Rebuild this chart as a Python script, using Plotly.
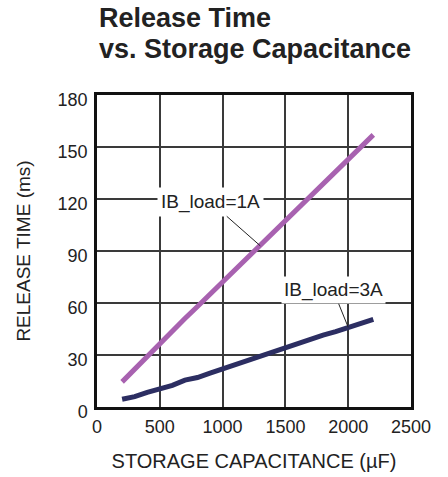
import plotly.graph_objects as go

cap_uF = [200, 300, 400, 500, 600, 700, 800, 900, 1000, 1100, 1200, 1300,
          1400, 1500, 1600, 1700, 1800, 1900, 2000, 2100, 2200]
release_1A = [14.5, 22, 29.5, 37, 44, 51, 58, 65, 72, 79, 86, 93,
              100, 107, 114, 121, 128, 135, 142, 149.5, 157]
release_3A = [4.5, 6, 8.5, 10.5, 12.5, 15.5, 17, 19.5, 22, 24, 27, 29.5,
              32, 34, 36.5, 39, 41.5, 43.5, 46, 48, 50.5]
x_ticks = [0, 500, 1000, 1500, 2000, 2500]
y_ticks = [0, 30, 60, 90, 120, 150, 180]
title_lines = ["Release Time", "vs. Storage Capacitance"]

FONT = "Liberation Sans, Arial, Helvetica, sans-serif"
purple = "#A862B0"
navy = "#2C2E62"
PLOT_H = 312

fig = go.Figure()
fig.add_trace(go.Scatter(x=cap_uF, y=release_1A, mode="lines",
                         line=dict(color=purple, width=5), showlegend=False))
fig.add_trace(go.Scatter(x=cap_uF, y=release_3A, mode="lines",
                         line=dict(color=navy, width=5), showlegend=False))

i1 = cap_uF.index(1300)
i3 = cap_uF.index(2000)
fig.add_annotation(x=cap_uF[i1], y=release_1A[i1], text="IB_load=1A",
                   showarrow=True, arrowhead=0, arrowwidth=1, arrowcolor="#222",
                   ax=-50, ay=-44, bgcolor="white", borderpad=3,
                   font=dict(family=FONT, size=19, color="#222"))
fig.add_annotation(x=cap_uF[i3], y=release_3A[i3], text="IB_load=3A",
                   showarrow=True, arrowhead=0, arrowwidth=1, arrowcolor="#222",
                   ax=-15, ay=-37, bgcolor="white", borderpad=2,
                   font=dict(family=FONT, size=19, color="#222"))

for line_text, px_above in zip(title_lines, [77, 46]):
    fig.add_annotation(x=0, y=1 + px_above / PLOT_H, xref="paper", yref="paper",
                       xanchor="left", yanchor="middle", showarrow=False,
                       text="<b>" + line_text + "</b>",
                       font=dict(family=FONT, size=27, color="#222"))

axis_common = dict(showgrid=True, gridcolor="#3a3a3a", gridwidth=1.5,
                   showline=True, linecolor="#111", linewidth=2.5, mirror=True,
                   ticks="", zeroline=False,
                   tickfont=dict(family=FONT, size=18, color="#222"))
fig.update_xaxes(range=[0, 2500], tickvals=x_ticks, ticklabelstandoff=2,
                 title=dict(text="STORAGE CAPACITANCE (µF)", standoff=18,
                            font=dict(family=FONT, size=20, color="#222")),
                 **axis_common)
fig.update_yaxes(range=[0, 180], tickvals=y_ticks, ticklabelstandoff=3,
                 ticklabelshift=5,
                 title=dict(text="RELEASE TIME (ms)", standoff=22,
                            font=dict(family=FONT, size=19, color="#222")),
                 **axis_common)

fig.update_layout(
    width=448, height=477,
    margin=dict(l=97, r=37, t=95, b=70, autoexpand=False),
    paper_bgcolor="white", plot_bgcolor="white",
)
fig.write_html("out.html", config={"displayModeBar": False},
               post_script="document.body.style.margin='0';")
